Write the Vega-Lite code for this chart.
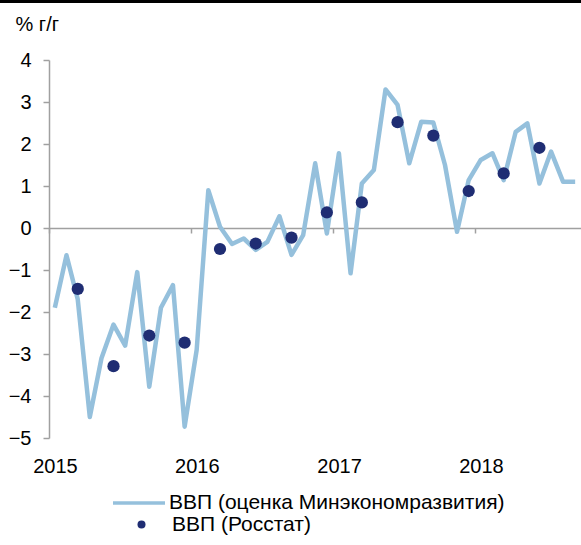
{
  "$schema": "https://vega.github.io/schema/vega-lite/v6.json",
  "width": 532,
  "height": 378,
  "autosize": {"type": "none"},
  "padding": {"left": 49, "top": 60, "right": 0, "bottom": 107},
  "background": "white",
  "config": {
    "view": {"stroke": null},
    "font": "Liberation Sans",
    "axisX": {
      "format": "%Y",
      "title": null,
      "grid": false,
      "offset": -210,
      "tickSize": 5,
      "tickWidth": 1.5,
      "tickColor": "#a0a0a0",
      "domainColor": "#a0a0a0",
      "domainWidth": 1.5,
      "labelPadding": 223,
      "labelOffset": 6,
      "labelFontSize": 20,
      "labelColor": "black",
      "labelFlush": false,
      "labelOverlap": false
    },
    "axisY": {
      "titleAngle": 0,
      "titleAlign": "left",
      "titleBaseline": "alphabetic",
      "titleX": -34,
      "titleY": -30,
      "titleFontSize": 20,
      "titleFontWeight": "normal",
      "titleColor": "black",
      "grid": false,
      "tickSize": 6,
      "tickWidth": 1.5,
      "tickColor": "#a0a0a0",
      "domainColor": "#a0a0a0",
      "domainWidth": 1.5,
      "labelPadding": 12,
      "labelFontSize": 20,
      "labelColor": "black"
    }
  },
  "datasets": {
    "line": [
      {"date": "2015-01-16T00:00", "value": -1.9},
      {"date": "2015-02-15T00:00", "value": -0.65},
      {"date": "2015-03-16T00:00", "value": -1.7},
      {"date": "2015-04-16T00:00", "value": -4.5},
      {"date": "2015-05-16T00:00", "value": -3.1},
      {"date": "2015-06-16T00:00", "value": -2.3},
      {"date": "2015-07-16T00:00", "value": -2.8},
      {"date": "2015-08-16T00:00", "value": -1.05},
      {"date": "2015-09-16T00:00", "value": -3.78},
      {"date": "2015-10-16T00:00", "value": -1.9},
      {"date": "2015-11-16T00:00", "value": -1.36},
      {"date": "2015-12-16T00:00", "value": -4.73},
      {"date": "2016-01-16T00:00", "value": -2.9},
      {"date": "2016-02-15T00:00", "value": 0.9},
      {"date": "2016-03-16T00:00", "value": 0.03},
      {"date": "2016-04-16T00:00", "value": -0.38},
      {"date": "2016-05-16T00:00", "value": -0.25},
      {"date": "2016-06-16T00:00", "value": -0.52},
      {"date": "2016-07-16T00:00", "value": -0.33},
      {"date": "2016-08-16T00:00", "value": 0.28},
      {"date": "2016-09-16T00:00", "value": -0.64},
      {"date": "2016-10-16T00:00", "value": -0.17},
      {"date": "2016-11-16T00:00", "value": 1.54},
      {"date": "2016-12-16T00:00", "value": -0.13},
      {"date": "2017-01-16T00:00", "value": 1.78},
      {"date": "2017-02-15T00:00", "value": -1.08},
      {"date": "2017-03-16T00:00", "value": 1.06},
      {"date": "2017-04-16T00:00", "value": 1.38},
      {"date": "2017-05-16T00:00", "value": 3.3},
      {"date": "2017-06-16T00:00", "value": 2.93},
      {"date": "2017-07-16T00:00", "value": 1.54},
      {"date": "2017-08-16T00:00", "value": 2.53},
      {"date": "2017-09-16T00:00", "value": 2.51},
      {"date": "2017-10-16T00:00", "value": 1.5},
      {"date": "2017-11-16T00:00", "value": -0.09},
      {"date": "2017-12-16T00:00", "value": 1.14},
      {"date": "2018-01-16T00:00", "value": 1.62},
      {"date": "2018-02-15T00:00", "value": 1.78},
      {"date": "2018-03-16T00:00", "value": 1.14},
      {"date": "2018-04-16T00:00", "value": 2.29},
      {"date": "2018-05-16T00:00", "value": 2.49},
      {"date": "2018-06-16T00:00", "value": 1.06},
      {"date": "2018-07-16T00:00", "value": 1.82},
      {"date": "2018-08-16T00:00", "value": 1.1},
      {"date": "2018-09-16T00:00", "value": 1.1}
    ],
    "dots": [
      {"date": "2015-03-16T00:00", "value": -1.45},
      {"date": "2015-06-16T00:00", "value": -3.29},
      {"date": "2015-09-16T00:00", "value": -2.56},
      {"date": "2015-12-16T00:00", "value": -2.73},
      {"date": "2016-03-16T00:00", "value": -0.5},
      {"date": "2016-06-16T00:00", "value": -0.37},
      {"date": "2016-09-16T00:00", "value": -0.23},
      {"date": "2016-12-16T00:00", "value": 0.37},
      {"date": "2017-03-16T00:00", "value": 0.61},
      {"date": "2017-06-16T00:00", "value": 2.52},
      {"date": "2017-09-16T00:00", "value": 2.2},
      {"date": "2017-12-16T00:00", "value": 0.88},
      {"date": "2018-03-16T00:00", "value": 1.3},
      {"date": "2018-06-16T00:00", "value": 1.91}
    ],
    "frame": [
      {"edge": "top"}
    ]
  },
  "layer": [
    {
      "data": {"name": "line"},
      "mark": {"type": "line", "strokeWidth": 4.5, "strokeJoin": "round"},
      "encoding": {
        "x": {
          "field": "date",
          "type": "temporal",
          "scale": {"domain": [{"year": 2015, "month": 1, "date": 1}, {"year": 2018, "month": 10, "date": 1}]},
          "axis": {
            "values": [{"year": 2015, "month": 1, "date": 1}, {"year": 2016, "month": 1, "date": 1}, {"year": 2017, "month": 1, "date": 1}, {"year": 2018, "month": 1, "date": 1}]
          }
        },
        "y": {
          "field": "value",
          "type": "quantitative",
          "scale": {"domain": [-5, 4], "nice": false, "zero": false},
          "axis": {"values": [-5, -4, -3, -2, -1, 0, 1, 2, 3, 4], "title": "% г/г"}
        },
        "color": {
          "datum": "ВВП (оценка Минэкономразвития)",
          "type": "nominal",
          "scale": {"range": ["#95c0dc"]},
          "legend": {
            "orient": "none",
            "legendX": 62,
            "legendY": 415,
            "title": null,
            "padding": 0,
            "symbolType": "stroke",
            "symbolSize": 2704,
            "symbolStrokeWidth": 3.5,
            "labelFontSize": 21,
            "labelColor": "black",
            "labelOffset": 2,
            "labelLimit": 0
          }
        }
      }
    },
    {
      "data": {"name": "dots"},
      "mark": {"type": "point", "filled": true, "size": 150, "opacity": 1},
      "encoding": {
        "x": {
          "field": "date",
          "type": "temporal",
          "axis": {
            "values": [{"year": 2015, "month": 1, "date": 1}, {"year": 2016, "month": 1, "date": 1}, {"year": 2017, "month": 1, "date": 1}, {"year": 2018, "month": 1, "date": 1}]
          }
        },
        "y": {
          "field": "value",
          "type": "quantitative",
          "axis": {"values": [-5, -4, -3, -2, -1, 0, 1, 2, 3, 4], "title": "% г/г"}
        },
        "fill": {
          "datum": "ВВП (Росстат)",
          "type": "nominal",
          "scale": {"range": ["#1f2d73"]},
          "legend": {
            "orient": "none",
            "legendX": 82,
            "legendY": 454,
            "title": null,
            "padding": 0,
            "symbolType": "circle",
            "symbolSize": 64,
            "symbolStrokeWidth": 0,
            "labelFontSize": 21,
            "labelColor": "black",
            "labelOffset": 20,
            "labelLimit": 0
          }
        }
      }
    },
    {
      "data": {"name": "frame"},
      "mark": {"type": "rule", "color": "black", "strokeWidth": 3, "clip": false},
      "encoding": {
        "x": {"datum": {"year": 2014, "month": 8, "date": 1}, "type": "temporal"},
        "x2": {"datum": {"year": 2018, "month": 12, "date": 1}},
        "y": {"datum": 5.39, "type": "quantitative"}
      }
    }
  ]
}
